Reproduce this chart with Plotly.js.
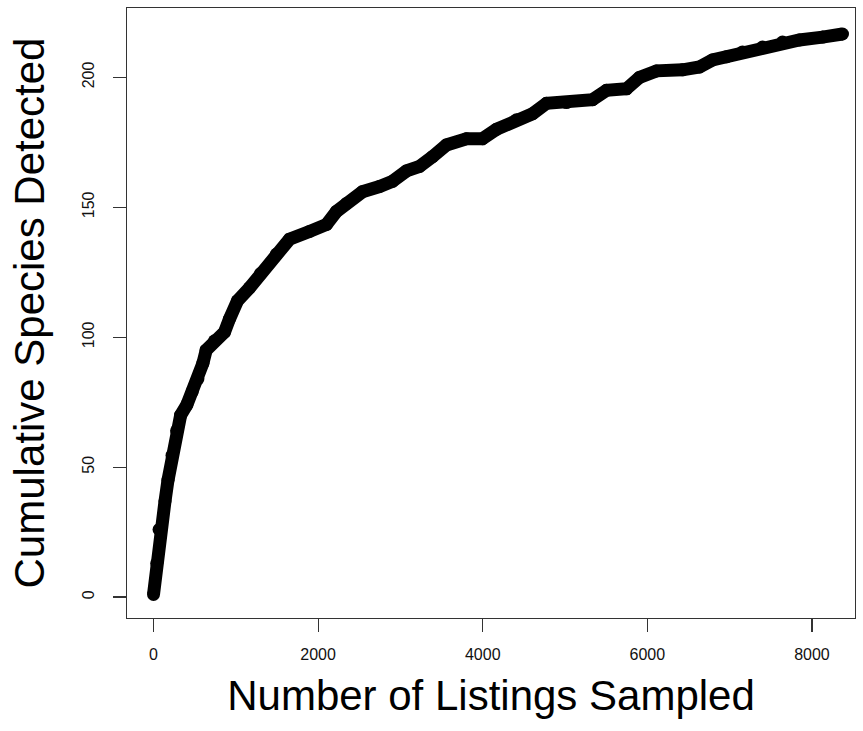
<!DOCTYPE html>
<html>
<head>
<meta charset="utf-8">
<script src="https://cdn.plot.ly/plotly-3.0.1.min.js"></script>
<style>html,body{margin:0;padding:0;background:#fff;}#chart{width:863px;height:731px;}</style>
</head>
<body>
<div id="chart"></div>
<script>
// Values (cumulative species curve)
const listings = [0, 40, 67, 140, 176, 225, 280, 330, 405, 470, 540, 600, 640, 741, 863, 923, 1020, 1166, 1300, 1494, 1652, 1895, 2102, 2223, 2345, 2539, 2746, 2904, 3074, 3232, 3390, 3560, 3803, 3997, 4167, 4410, 4605, 4775, 5018, 5334, 5504, 5747, 5905, 6112, 6428, 6634, 6792, 6961, 7156, 7399, 7642, 7848, 8128, 8371];
const species  = [1, 13, 26, 37, 45, 54.5, 64, 70, 74, 79, 84, 90, 95, 98.6, 102, 107, 114, 119, 124.5, 132, 137.7, 140.7, 143.4, 148.4, 151.5, 156, 158, 160, 164, 165.7, 169.5, 174, 176.4, 176.4, 180, 183.7, 186, 190, 190.3, 191.4, 195, 195.6, 200, 202.5, 202.9, 204, 206.7, 207.9, 209.8, 211.7, 213.6, 214.4, 215.5, 216.7];
const xTicks = [0, 2000, 4000, 6000, 8000];
const yTicks = [0, 50, 100, 150, 200];
const xTitle = 'Number of Listings Sampled';
const yTitle = 'Cumulative Species Detected';

const FONT = '"Liberation Sans", Arial, Helvetica, sans-serif';

const trace = {
  x: listings,
  y: species,
  type: 'scatter',
  mode: 'lines+markers',
  line: {color: '#000', width: 13},
  marker: {color: '#000', size: 13, symbol: 'circle'},
  hoverinfo: 'x+y',
  showlegend: false
};

const axisCommon = {
  showgrid: false,
  zeroline: false,
  showline: true,
  mirror: true,
  linecolor: '#333',
  linewidth: 1.2,
  ticks: 'outside',
  ticklen: 13,
  tickwidth: 1.2,
  tickcolor: '#333',
  tickfont: {family: FONT, size: 16, color: '#111'},
  automargin: false
};

const layout = {
  width: 863,
  height: 731,
  margin: {l: 127, r: 8, t: 8, b: 113},
  paper_bgcolor: '#fff',
  plot_bgcolor: '#fff',
  font: {family: FONT, color: '#000'},
  xaxis: Object.assign({}, axisCommon, {
    range: [-322, 8523],
    tickvals: xTicks,
    ticktext: xTicks.map(String),
    ticklabelstandoff: 9,
    title: {text: xTitle, font: {family: FONT, size: 42, color: '#000'}, standoff: 18}
  }),
  yaxis: Object.assign({}, axisCommon, {
    range: [-8.05, 226.7],
    tickvals: yTicks,
    ticktext: yTicks.map(String),
    tickangle: -90,
    ticklabelstandoff: 12,
    title: {text: yTitle, font: {family: FONT, size: 42, color: '#000'}, standoff: 22}
  })
};

Plotly.newPlot('chart', [trace], layout, {displayModeBar: false, staticPlot: true});
</script>
</body>
</html>
